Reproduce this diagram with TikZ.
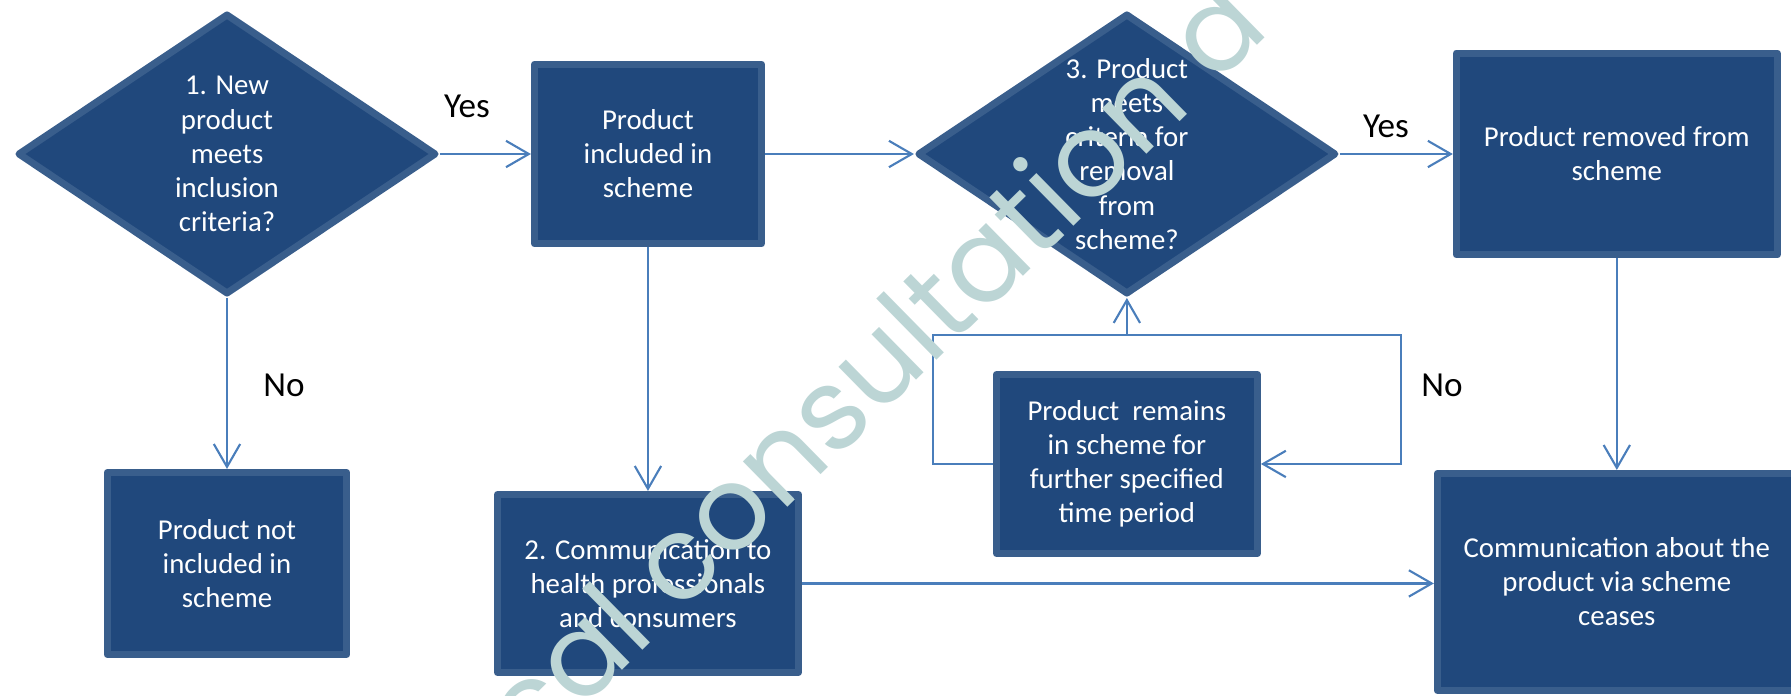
\documentclass[tikz,border=0pt]{standalone}
\usepackage{fontspec}
\setmainfont{Carlito}
\newfontfamily\stampfont{Poppins}
\usepackage{tikz}
\usetikzlibrary{positioning,arrows.meta,shapes.geometric}

\definecolor{boxfill}{RGB}{32,72,124}
\definecolor{boxedge}{RGB}{57,94,140}
\definecolor{flowline}{RGB}{74,126,187}
\definecolor{stamp}{RGB}{188,213,213}

\tikzset{
	every node/.style = {inner sep = 0},
	stepbox/.style = {rectangle, draw=boxedge, fill=boxfill, line width=4pt, line join=round, text=white, align=center, font=\fontsize{16.4}{19.4}\selectfont},
	decision/.style = {diamond, draw=boxedge, fill=boxfill, line width=4pt, line join=round, minimum width=8.38cm, minimum height=5.62cm},
	dtext/.style = {text=white, align=center, font=\fontsize{16.4}{19.4}\selectfont},
	answer/.style = {font=\fontsize{20}{24}\selectfont},
	link/.style = {draw=flowline, line width=1.2pt, -{Straight Barb[length=13pt,width=15pt]}},
}

\begin{document}
\begin{tikzpicture}[x=0.02cm, y=-0.02cm]
		\useasboundingbox (0,0) rectangle (1791,696);
		\clip (0,0) rectangle (1791,696);

		\node[decision] (q1) at (227,154) {};
		\node[dtext] (q1txt) at (q1) {1. New\\product\\meets\\inclusion\\criteria?};
		\node[stepbox, minimum width=4.54cm, minimum height=3.6cm, right=1.82cm of q1] (incl) {Product\\included in\\scheme};
		\node[decision, right=2.98cm of incl] (q3) {};
		\node[dtext] (q3txt) at (q3) {3. Product\\meets\\criteria for\\removal\\from\\scheme?};
		\node[stepbox, minimum width=6.42cm, minimum height=4.04cm, right=2.26cm of q3] (removed) {Product removed from\\scheme};

		\node[stepbox, minimum width=4.8cm, minimum height=3.64cm, below=3.42cm of q1] (notincl) {Product not\\included in\\scheme};
		\node[stepbox, minimum width=6.02cm, minimum height=3.56cm, below=4.87cm of incl] (comm) {2. Communication to\\health professionals\\and consumers};
		\node[stepbox, minimum width=5.22cm, minimum height=3.58cm, below=1.46cm of q3] (remains) {Product~ remains\\in scheme for\\further specified\\time period};
		\node[stepbox, minimum width=7.18cm, minimum height=4.34cm, below=4.23cm of removed] (ceases) {Communication about the\\product via scheme\\ceases};

		\node[answer] (yes1) at (467,106) {Yes};
		\node[answer] (yes2) at (1386,126) {Yes};
		\node[answer] (no1) at (284,385) {No};
		\node[answer] (no2) at (1442,385) {No};

		\coordinate (loopL) at (933,335);
		\coordinate (loopR) at (1401,335);

		\draw[link] (q1.east) -- (incl.west);
		\draw[link] (incl.east) -- (q3.west);
		\draw[link] (q3.east) -- (removed.west);
		\draw[link] (q1.south) -- (notincl.north);
		\draw[link] (incl.south) -- (incl.south |- comm.north);
		\draw[link] (removed.south) -- (ceases.north);
		\draw[link] (comm.east) -- (comm.east -| ceases.west);

		% loop back round the "remains" box
		\draw[link] (remains.west) -| (loopL) -- (loopL -| q3.south) -- (q3.south);
		\draw[link] (loopL -| q3.south) -| (loopR) |- (remains.east);

		\node[text=stamp, rotate=44.5, font=\stampfont\fontsize{66}{66}\selectfont] (wm) at (860,375) {ical consultation d};
\end{tikzpicture}
\end{document}
